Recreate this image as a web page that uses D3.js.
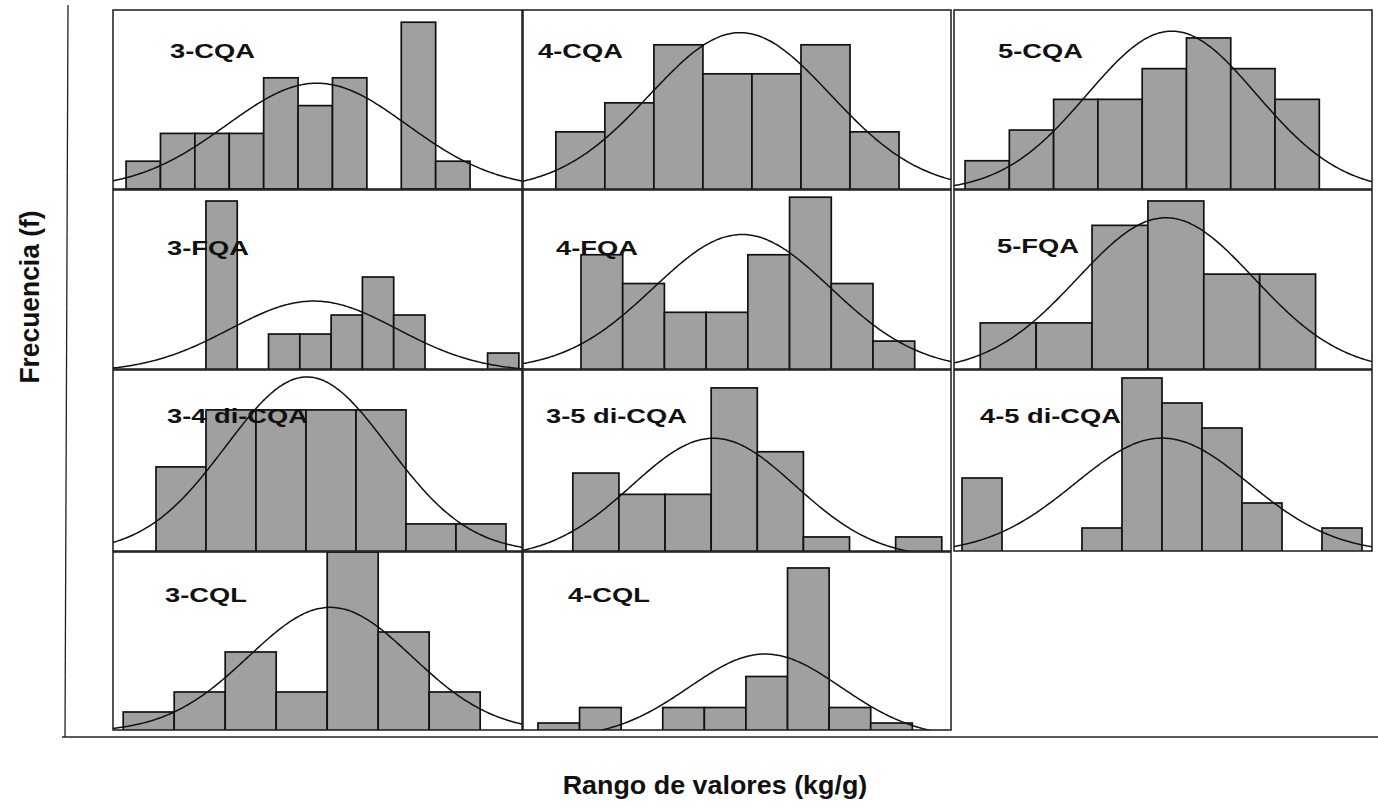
<!DOCTYPE html>
<html>
<head>
<meta charset="utf-8">
<script src="https://cdn.jsdelivr.net/npm/d3@7"></script>
<style>
  html, body { margin: 0; padding: 0; background: #fff; }
  svg { display: block; }
  .frame { fill: none; stroke: #1a1a1a; stroke-width: 1.5; }
  .bar { fill: #a0a0a0; stroke: #111; stroke-width: 1.7; }
  .fit { fill: none; stroke: #111; stroke-width: 1.5; }
  .main-axis { stroke: #222; stroke-width: 1.3; }
  .panel-label {
    font-family: "Liberation Sans", Arial, sans-serif;
    font-weight: bold; font-size: 21px; fill: #111;
  }
  .axis-title {
    font-family: "Liberation Sans", Arial, sans-serif;
    font-weight: bold; font-size: 24px; fill: #111;
  }
</style>
</head>
<body>
<script>
// ---- Data: histogram counts per compound (25 samples each) ----
var LABELS = [
  '3-CQA', '4-CQA', '5-CQA',
  '3-FQA', '4-FQA', '5-FQA',
  '3-4 di-CQA', '3-5 di-CQA', '4-5 di-CQA',
  '3-CQL', '4-CQL'
];

var COUNTS = [
  [1, 2, 2, 2, 4, 3, 4, 0, 6, 1],
  [2, 3, 5, 4, 4, 5, 2],
  [1, 2, 3, 3, 4, 5, 4, 3],
  [9, 0, 2, 2, 3, 5, 3, 0, 0, 1],
  [4, 3, 2, 2, 4, 6, 3, 1],
  [2, 2, 6, 7, 4, 4],
  [3, 5, 5, 5, 5, 1, 1],
  [4, 3, 3, 8, 5, 1, 0, 1],
  [3, 0, 0, 1, 7, 6, 5, 2, 0, 1],
  [1, 2, 4, 2, 9, 5, 2],
  [1, 2, 0, 2, 2, 4, 11, 2, 1]
];

// fitted normal curve (mean and sd in bin units)
var FIT_MEAN = [5.55, 3.76, 4.67, 3.44, 3.86, 3.32, 3.02, 3.05, 5.0, 4.06, 5.46];
var FIT_SD   = [2.62, 1.84, 1.91, 2.67, 2.12, 1.58, 1.62, 1.77, 2.17, 1.60, 1.83];

// visible range of each small chart, in bin units / counts
var X_DOMAIN = [
  [-0.38, 11.51], [-0.67, 8.06], [-0.25, 9.19],
  [-2.97, 10.10], [-1.39, 8.87], [-0.47, 7.01],
  [-0.86, 7.32],  [-1.08, 8.20], [-0.20, 10.25],
  [-0.20, 7.82],  [-0.36, 9.93]
];
var Y_DOMAIN = [
  [0, 6.44],    [0.03, 6.20], [0.08, 5.91],
  [0.16, 9.58], [0.03, 6.25], [0.11, 7.45],
  [0.05, 6.40], [0.34, 8.84], [0.08, 7.32],
  [0.10, 9.00], [0.55, 12.03]
];

var SAMPLES = 25;

var HistPanels = (function () {
  var W = 1378, H = 807;

  // Grid of the pasted charts
  var COLS = [[113, 522], [523, 951], [954, 1372]];
  var ROWS = [[10, 189], [190, 369], [370, 551], [552, 730]];

  // Label offsets inside each chart
  var LABEL_POS = [
    [57, 48], [15, 48], [44, 48],
    [54, 65], [33, 65], [43, 63],
    [54, 53], [23, 53], [26, 53],
    [52, 50], [45, 50]
  ];

  var svg;

  /**
   * Normal density scaled to the histogram (bin width = 1).
   */
  function normalCurve(mu, sd) {
    var k = SAMPLES / (sd * Math.sqrt(2 * Math.PI));
    return function (v) {
      var z = (v - mu) / sd;
      return k * Math.exp(-0.5 * z * z);
    };
  }

  /**
   * Draw one small histogram chart.
   */
  function drawPanel(i) {
    var col = COLS[i % 3], row = ROWS[Math.floor(i / 3)];
    var w = col[1] - col[0], h = row[1] - row[0];

    var x = d3.scaleLinear().domain(X_DOMAIN[i]).range([0, w]);
    var y = d3.scaleLinear().domain(Y_DOMAIN[i]).range([h, 0]);

    var g = svg.append('g')
      .attr('transform', 'translate(' + col[0] + ',' + row[0] + ')');

    g.append('clipPath')
      .attr('id', 'clip-' + i)
      .append('rect')
      .attr('width', w)
      .attr('height', h);

    var inner = g.append('g').attr('clip-path', 'url(#clip-' + i + ')');

    // white background
    inner.append('rect')
      .attr('width', w).attr('height', h)
      .attr('fill', '#fff');

    var bins = COUNTS[i]
      .map(function (c, j) { return { bin: j, count: c }; })
      .filter(function (d) { return d.count > 0; });

    inner.selectAll('.bar')
      .data(bins)
      .enter()
      .append('rect')
      .attr('class', 'bar')
      .attr('x', function (d) { return x(d.bin); })
      .attr('width', function (d) { return x(d.bin + 1) - x(d.bin); })
      .attr('y', function (d) { return y(d.count); })
      .attr('height', function (d) { return y(0) - y(d.count); });

    // Fitted normal curve
    var f = normalCurve(FIT_MEAN[i], FIT_SD[i]);
    var dom = X_DOMAIN[i];
    var pts = d3.range(dom[0], dom[1] + 0.02, (dom[1] - dom[0]) / 240);
    inner.append('path')
      .datum(pts)
      .attr('class', 'fit')
      .attr('d', d3.line()
        .x(function (v) { return x(v); })
        .y(function (v) { return y(f(v)); })
        .curve(d3.curveBasis));

    g.append('rect')
      .attr('class', 'frame')
      .attr('width', w)
      .attr('height', h);

    g.append('text')
      .attr('class', 'panel-label')
      .attr('transform', 'translate(' + LABEL_POS[i][0] + ',' + LABEL_POS[i][1] + ') scale(1.3,1)')
      .text(LABELS[i]);
  }

  function init() {
    svg = d3.select('body')
      .append('svg')
      .attr('width', W)
      .attr('height', H);

    // Outer frequency / range axes
    svg.append('line')
      .attr('class', 'main-axis')
      .attr('x1', 68).attr('y1', 5)
      .attr('x2', 65).attr('y2', 737);
    svg.append('line')
      .attr('class', 'main-axis')
      .attr('x1', 62).attr('y1', 737)
      .attr('x2', W).attr('y2', 737);

    for (var i = 0; i < LABELS.length; i++) drawPanel(i);

    svg.append('text')
      .attr('class', 'axis-title')
      .attr('text-anchor', 'middle')
      .attr('transform', 'translate(715,794) scale(1.12,1.05)')
      .text('Rango de valores (kg/g)');

    svg.append('text')
      .attr('class', 'axis-title')
      .attr('text-anchor', 'middle')
      .attr('transform', 'translate(39,297) rotate(-90) scale(1.1,1.15)')
      .text('Frecuencia (f)');
  }

  return { init: init };
})();

HistPanels.init();
</script>
</body>
</html>
